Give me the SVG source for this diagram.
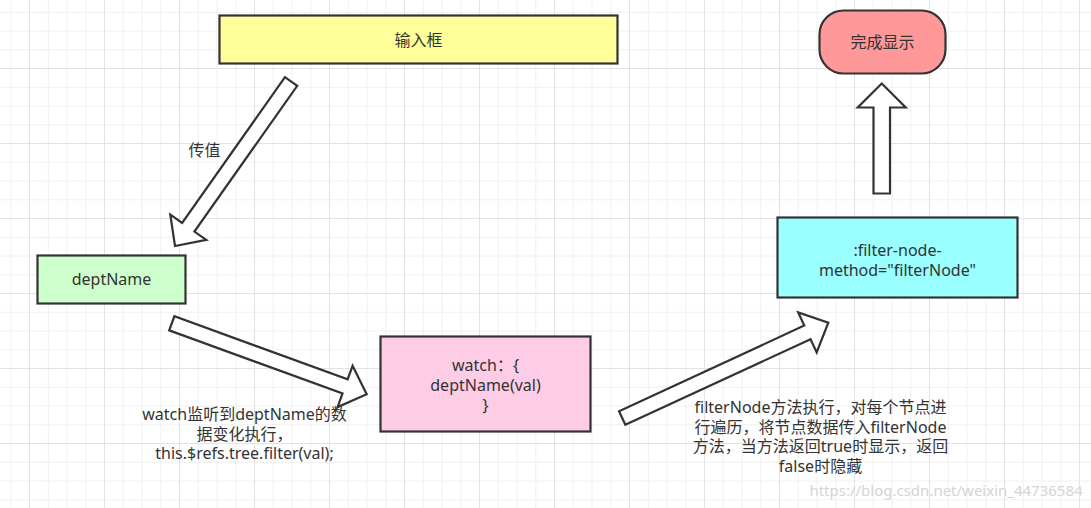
<svg xmlns="http://www.w3.org/2000/svg" width="1091" height="508" viewBox="0 0 1091 508">
<style>
.box{stroke:#333;stroke-width:2.2}
.arr{fill:#fff;stroke:#333;stroke-width:2.2;stroke-linejoin:miter}
text{font-family:"Noto Sans","Noto Sans CJK SC",sans-serif;font-size:16px;fill:#333;text-anchor:middle;dominant-baseline:central}
.wm{font-size:15px;fill:#d4d4d4;stroke:#fff;stroke-width:0.6;paint-order:stroke}
</style>
<defs>
<pattern id="grid" patternUnits="userSpaceOnUse" x="29" y="68" width="75" height="75">
<path d="M19.25 0V75M38 0V75M56.75 0V75M0 19.25H75M0 38H75M0 56.75H75" stroke="#f0f0f0" stroke-width="1" fill="none"/>
<path d="M0.5 0V75M0 0.5H75" stroke="#e2e2e2" stroke-width="1" fill="none"/>
</pattern>
</defs>
<rect width="1091" height="508" fill="#fff"/>
<rect width="1091" height="508" fill="url(#grid)"/>

<g id="connectors">
<polygon class="arr" points="284.97,77.17 182.14,222.88 170.3,214.52 175,246 206.24,239.9 194.4,231.54 297.23,85.83"/>
<polygon class="arr" points="169.23,330.35 342.51,393.48 337.56,407.11 366.7,394.3 352.6,365.75 347.65,379.38 174.37,316.25"/>
<polygon class="arr" points="625.35,424.81 810.57,339.17 816.66,352.34 828.3,322.7 798.18,312.38 804.27,325.55 619.05,411.19"/>
<polygon class="arr" points="873.5,193.5 873.5,107.5 857.75,107.5 881.75,83.5 905.75,107.5 890,107.5 890,193.5"/>
</g>

<g id="node-input">
<rect class="box" x="219.5" y="15.5" width="398" height="48" fill="#ffff99"/>
<text x="418.5" y="40">输入框</text>
</g>
<g id="node-deptName">
<rect class="box" x="37.5" y="255.5" width="148" height="48" fill="#ccffcc"/>
<text x="111.5" y="279">deptName</text>
</g>
<g id="node-watch">
<rect class="box" x="380.5" y="336.5" width="210" height="95" fill="#ffcce6"/>
<text x="485.5" y="365">watch：{</text>
<text x="485.5" y="385">deptName(val)</text>
<text x="485.5" y="405">}</text>
</g>
<g id="node-filter">
<rect class="box" x="777.5" y="217.5" width="240" height="80" fill="#99ffff"/>
<text x="897.5" y="250">:filter-node-</text>
<text x="897.5" y="269.5">method="filterNode"</text>
</g>
<g id="node-done">
<rect class="box" x="819.5" y="10.5" width="126" height="63" rx="24" ry="24" fill="#ff9999"/>
<text x="882.5" y="42">完成显示</text>
</g>

<g id="labels">
<text x="204.5" y="150">传值</text>
<text x="244.5" y="414">watch监听到deptName的数</text>
<text x="244.5" y="433.5">据变化执行，</text>
<text x="244.5" y="452.5">this.$refs.tree.filter(val);</text>
<text x="820.5" y="407">filterNode方法执行，对每个节点进</text>
<text x="820.5" y="426.5">行遍历，将节点数据传入filterNode</text>
<text x="820.5" y="446">方法，当方法返回true时显示，返回</text>
<text x="820.5" y="466">false时隐藏</text>
<text class="wm" x="946" y="490">https://blog.csdn.net/weixin_44736584</text>
</g>
</svg>
